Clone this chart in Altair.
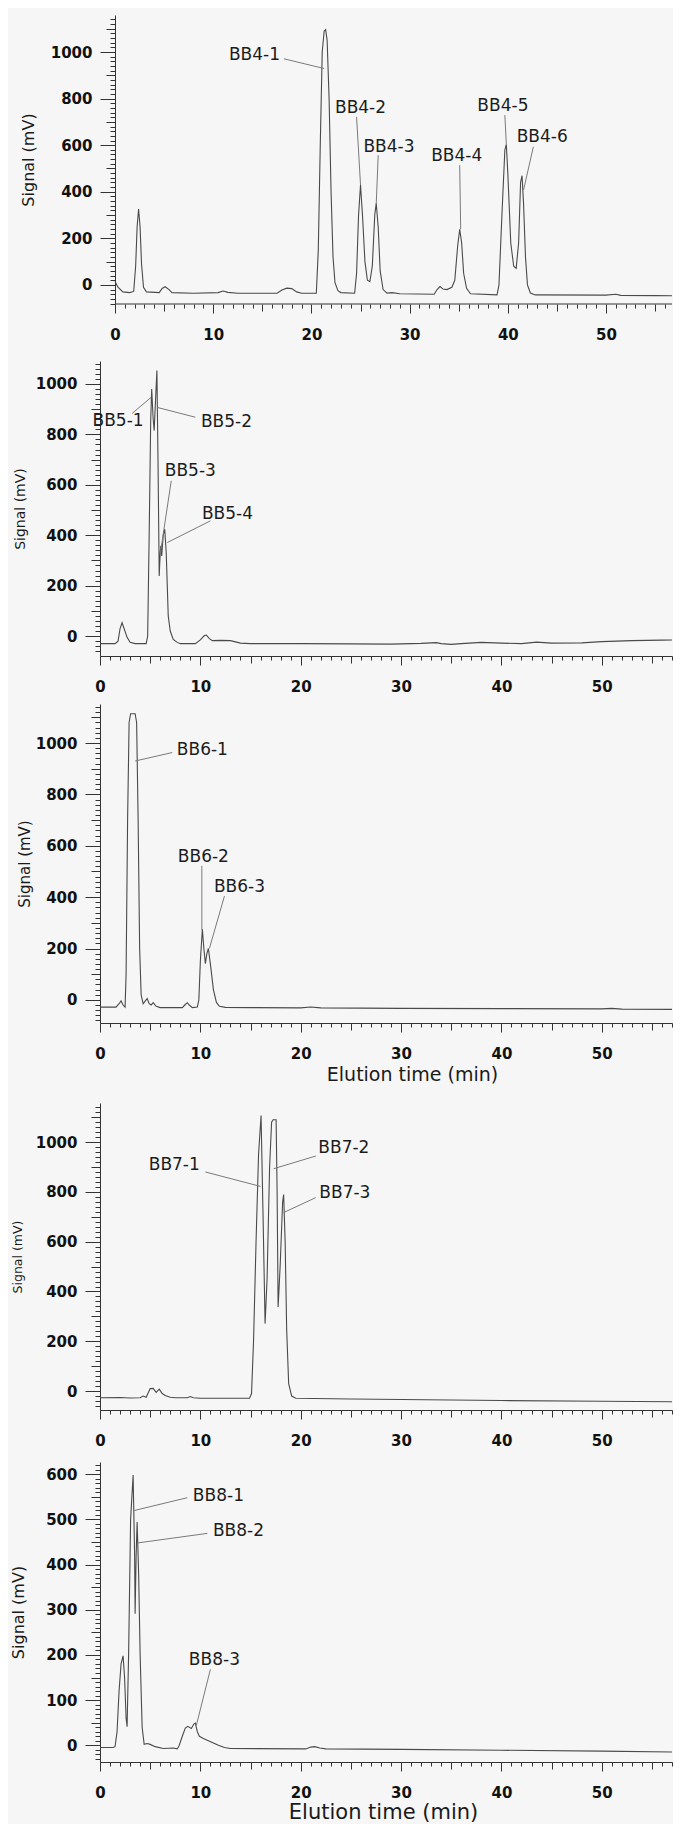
import altair as alt
import pandas as pd

# ---------------- Panel 1 (BB4) ----------------
P1_T = [0.0, 0.3, 0.8, 1.5, 1.9, 2.1, 2.25, 2.4, 2.55, 2.7, 2.9, 3.2, 4.5, 4.8, 5.1, 5.5, 5.8, 8.0,
        10.5, 11.0, 11.5, 12.5, 16.5, 17.0, 17.5, 18.0, 18.5, 19.0, 20.5, 20.7, 20.9, 21.1, 21.3,
        21.45, 21.6, 21.8, 22.0, 22.2, 22.4, 22.7, 23.0, 24.4, 24.6, 24.8, 25.0, 25.2, 25.45, 25.7,
        25.95, 26.2, 26.45, 26.6, 26.8, 27.0, 27.3, 27.7, 28.2, 29.0, 32.5, 32.8, 33.1, 33.4, 33.8,
        34.3, 34.6, 34.9, 35.1, 35.3, 35.5, 35.8, 36.2, 38.9, 39.1, 39.4, 39.7, 39.85, 40.0, 40.3,
        40.6, 40.85, 41.1, 41.3, 41.45, 41.6, 41.8, 42.0, 42.3, 42.8, 50.0, 51.0, 51.5, 55.0, 57.9]
P1_V = [15, -10, -30, -33, -28, 80, 250, 326, 250, 90, -10, -30, -33, -15, -8, -20, -33, -36,
        -33, -26, -32, -36, -36, -22, -14, -16, -30, -36, -36, 150, 600, 1000, 1090,
        1096, 1050, 800, 400, 120, 10, -25, -33, -36, 50, 300, 429, 300, 100, 20,
        14, 80, 300, 350, 250, 60, -20, -35, -33, -38, -40, -20, -7, -18, -20,
        -10, 20, 170, 239, 180, 50, -15, -38, -43, 0, 300, 580, 603, 480, 180,
        80, 71, 180, 440, 469, 350, 120, 0, -35, -43, -44, -40, -45, -46, -47]
P1_NAMES = ["BB4-1", "BB4-2", "BB4-3", "BB4-4", "BB4-5", "BB4-6"]
P1_LAB_T = [14.2, 25.0, 27.9, 34.8, 39.5, 43.5]
P1_LAB_V = [989, 761, 593, 554, 770, 634]
P1_LD_T1 = [17.2, 24.6, 26.8, 35.1, 39.7, 42.6]
P1_LD_V1 = [971, 721, 557, 514, 729, 593]
P1_LD_T2 = [21.3, 25.0, 26.6, 35.2, 39.85, 41.6]
P1_LD_V2 = [929, 429, 347, 239, 603, 407]

# ---------------- Panel 2 (BB5) ----------------
P2_T = [0.0, 1.5, 1.8, 2.0, 2.2, 2.4, 2.7, 3.0, 3.5, 4.6, 4.75, 4.9, 5.05, 5.15, 5.3, 5.4, 5.55,
        5.67, 5.78, 5.9, 6.0, 6.06, 6.15, 6.3, 6.45, 6.6, 6.8, 7.0, 7.3, 7.7, 8.0, 9.5, 10.0, 10.4,
        10.6, 10.9, 11.2, 12.0, 13.0, 14.0, 15.0, 20.0, 25.0, 29.0, 32.0, 33.5, 34.0, 35.0, 36.0,
        38.0, 40.0, 42.0, 43.5, 45.0, 48.0, 50.0, 53.0, 56.0, 58.2]
P2_V = [-30, -30, -20, 30, 53, 30, -5, -25, -30, -30, 0, 400, 850, 980, 860, 815, 950,
        1053, 700, 238, 330, 358, 318, 400, 424, 330, 80, 20, -13, -25, -30, -30, -15, 2,
        4, -10, -18, -17, -18, -28, -30, -30, -31, -32, -29, -26, -30, -33, -30,
        -25, -28, -30, -24, -28, -27, -22, -18, -16, -15]
P2_NAMES = ["BB5-1", "BB5-2", "BB5-3", "BB5-4"]
P2_LAB_T = [1.8, 12.6, 9.0, 12.7]
P2_LAB_V = [854, 848, 653, 486]
P2_LD_T1 = [3.2, 9.5, 7.1, 11.0]
P2_LD_V1 = [883, 868, 616, 457]
P2_LD_T2 = [5.1, 5.7, 6.0, 6.7]
P2_LD_V2 = [947, 907, 325, 371]

# ---------------- Panel 3 (BB6) ----------------
P3_T = [0.0, 1.6, 1.9, 2.1, 2.3, 2.5, 2.6, 2.75, 2.9, 3.05, 3.5, 3.65, 3.8, 3.95, 4.1, 4.3, 4.5,
        4.7, 4.9, 5.1, 5.3, 5.6, 6.0, 8.2, 8.5, 8.7, 8.9, 9.2, 9.7, 9.85, 10.0, 10.2, 10.35, 10.5,
        10.65, 10.8, 11.0, 11.3, 11.6, 11.9, 12.5, 15.0, 20.0, 21.0, 22.0, 30.0, 40.0, 50.0, 51.0,
        52.0, 58.2]
P3_V = [-28, -28, -15, -4, -20, -28, 100, 700, 1080, 1114, 1114, 1080, 700, 200, 20, -15, -5,
        5, -15, -20, -11, -25, -30, -30, -18, -11, -20, -30, -28, 0, 150, 275, 200, 141,
        180, 200, 140, 40, -10, -25, -29, -30, -31, -28, -31, -33, -34, -35, -33,
        -36, -37]
P3_NAMES = ["BB6-1", "BB6-2", "BB6-3"]
P3_LAB_T = [10.2, 10.3, 13.9]
P3_LAB_V = [974, 558, 439]
P3_LD_T1 = [7.2, 10.15, 12.4]
P3_LD_V1 = [963, 522, 404]
P3_LD_T2 = [3.5, 10.15, 10.9]
P3_LD_V2 = [930, 272, 200]

# ---------------- Panel 4 (BB7) ----------------
P4_T = [0.0, 2.0, 3.0, 4.0, 4.3, 4.6, 5.0, 5.3, 5.6, 5.9, 6.2, 6.5, 7.0, 7.5, 8.7, 9.0, 9.3, 10.0,
        14.9, 15.1, 15.3, 15.55, 15.8, 16.05, 16.25, 16.45, 16.65, 16.9, 17.1, 17.25, 17.55, 17.65,
        17.75, 17.95, 18.2, 18.3, 18.45, 18.6, 18.8, 19.1, 19.5, 25.0, 30.0, 40.0, 50.0, 58.2]
P4_V = [-27, -26, -28, -27, -20, -25, 10, 11, -5, 8, -10, -18, -25, -27, -27, -22, -27, -29,
        -29, -10, 200, 600, 950, 1107, 700, 271, 450, 900, 1080, 1090, 1090, 800,
        338, 500, 760, 789, 600, 250, 30, -20, -29, -32, -34, -38, -41, -43]
P4_NAMES = ["BB7-1", "BB7-2", "BB7-3"]
P4_LAB_T = [7.4, 24.3, 24.4]
P4_LAB_V = [909, 977, 795]
P4_LD_T1 = [10.5, 21.5, 21.5]
P4_LD_V1 = [880, 944, 777]
P4_LD_T2 = [16.0, 17.3, 18.3]
P4_LD_V2 = [822, 893, 717]

# ---------------- Panel 5 (BB8) ----------------
P5_T = [0.0, 1.3, 1.5, 1.7, 1.9, 2.1, 2.3, 2.45, 2.6, 2.7, 2.85, 3.05, 3.3, 3.45, 3.5, 3.6, 3.7,
        3.85, 4.0, 4.2, 4.4, 4.7, 5.0, 5.5, 6.3, 7.3, 7.7, 7.9, 8.2, 8.5, 8.75, 9.1, 9.35, 9.5,
        9.7, 9.9, 10.3, 10.8, 11.3, 11.8, 12.4, 13.0, 20.5, 21.0, 21.4, 21.9, 22.5, 30.0, 40.0,
        50.0, 58.2]
P5_V = [-5, -5, -3, 30, 120, 180, 198, 150, 60, 41, 200, 500, 598, 420, 291, 420, 494,
        380, 200, 40, 2, 4, 2, -3, -7, -6, -8, 0, 20, 38, 42, 37, 47, 49,
        30, 20, 15, 10, 5, 0, -5, -7, -8, -4, -3, -6, -8, -9, -11,
        -13, -15]
P5_NAMES = ["BB8-1", "BB8-2", "BB8-3"]
P5_LAB_T = [11.8, 13.8, 11.4]
P5_LAB_V = [551, 474, 188]
P5_LD_T1 = [8.7, 10.7, 11.0]
P5_LD_V1 = [548, 469, 168]
P5_LD_T2 = [3.3, 3.8, 9.6]
P5_LD_V2 = [519, 448, 44]

FONT = "DejaVu Sans"
LINE_COLOR = "#4a4a4a"
LEAD_COLOR = "#7a7a7a"
PLOT_W = 572


def make_panel(tt, vv, names, lt, lv, t1, v1, t2, v2, xdom, ydom, height,
               ystep, ymid, ymajor, ytitle_size, ytitle_x, yoffset=0,
               xtitle=None, xtitle_size=20, xtitle_x=0, xtitle_y=0,
               own_xline=False, xline_end=58):
    trace = pd.DataFrame({"t": tt, "v": vv})
    labels = pd.DataFrame({"t": lt, "v": lv, "name": names})
    leads = pd.DataFrame({"t": t1, "v": v1, "t2": t2, "v2": v2})

    xvals = [i for i in range(0, 60) if xdom[0] <= i <= xdom[1]]
    yvals = [k for k in range(-200, 1300, ystep) if ydom[0] <= k <= ydom[1]]

    xkw = dict(values=xvals, format="d",
               labelExpr="datum.value % 10 === 0 ? datum.label : ''",
               tickSize={"condition": [{"test": "datum.value % 10 === 0", "value": 9},
                                       {"test": "datum.value % 5 === 0", "value": 7}],
                         "value": 4},
               labelPadding=14, labelOverlap=False, labelFlush=False, grid=False,
               domain=not own_xline)
    if xtitle:
        xkw.update(titleFontSize=xtitle_size, titleX=xtitle_x, titleY=xtitle_y,
                   titleBaseline="middle", titleAlign="center")
    xaxis = alt.Axis(**xkw)
    yaxis = alt.Axis(values=yvals, format="d",
                     labelExpr=f"datum.value % {ymajor} === 0 ? datum.label : ''",
                     tickSize={"condition": [{"test": f"datum.value % {ymajor} === 0", "value": 15},
                                             {"test": f"datum.value % {ymid} === 0", "value": 9}],
                               "value": 5},
                     labelPadding=8, labelOverlap=False, grid=False,
                     titleFontSize=ytitle_size, titleX=ytitle_x,
                     titleBaseline="middle", titleAlign="center", offset=yoffset)

    xs = alt.Scale(domain=xdom, nice=False, zero=False)
    ys = alt.Scale(domain=ydom, nice=False, zero=False)
    X = alt.X("t:Q", scale=xs, axis=xaxis, title=xtitle)
    Y = alt.Y("v:Q", scale=ys, axis=yaxis, title="Signal (mV)")

    line = alt.Chart(trace).mark_line(color=LINE_COLOR, strokeWidth=1.1, clip=True).encode(x=X, y=Y)
    lead = alt.Chart(leads).mark_rule(color=LEAD_COLOR, strokeWidth=1).encode(
        x=X, y=Y, x2="t2:Q", y2="v2:Q")
    text = alt.Chart(labels).mark_text(font=FONT, fontSize=17, color="#1c1c1c",
                                       align="center", baseline="middle").encode(
        x=X, y=Y, text="name:N")
    layers = [line, lead, text]
    if own_xline:
        xl = pd.DataFrame({"t": [0], "t2": [xline_end], "v": [ydom[0]]})
        layers.append(alt.Chart(xl).mark_rule(color="#333333", strokeWidth=1).encode(
            x=X, x2="t2:Q", y=Y))
    return alt.layer(*layers).properties(width=PLOT_W, height=height)


X_MAX = 57.0
P1_XMAX = 56.72

p1 = make_panel(P1_T, P1_V, P1_NAMES, P1_LAB_T, P1_LAB_V, P1_LD_T1, P1_LD_V1, P1_LD_T2, P1_LD_V2,
                [-1.53, P1_XMAX], [-82, 1159], 289, 20, 100, 200, 16, -87, yoffset=-15,
                own_xline=True, xline_end=P1_XMAX)
p2 = make_panel(P2_T, P2_V, P2_NAMES, P2_LAB_T, P2_LAB_V, P2_LD_T1, P2_LD_V1, P2_LD_T2, P2_LD_V2,
                [0, X_MAX], [-79, 1091], 295, 20, 100, 200, 14, -80)
p3 = make_panel(P3_T, P3_V, P3_NAMES, P3_LAB_T, P3_LAB_V, P3_LD_T1, P3_LD_V1, P3_LD_T2, P3_LD_V2,
                [0, X_MAX], [-90, 1152], 319, 20, 100, 200, 15, -76,
                xtitle="Elution time (min)", xtitle_size=19, xtitle_x=312, xtitle_y=51)
p4 = make_panel(P4_T, P4_V, P4_NAMES, P4_LAB_T, P4_LAB_V, P4_LD_T1, P4_LD_V1, P4_LD_T2, P4_LD_V2,
                [0, X_MAX], [-76, 1157], 307, 20, 100, 200, 12.5, -83)
p5 = make_panel(P5_T, P5_V, P5_NAMES, P5_LAB_T, P5_LAB_V, P5_LD_T1, P5_LD_V1, P5_LD_T2, P5_LD_V2,
                [0, X_MAX], [-37, 627], 300, 10, 50, 100, 16, -82,
                xtitle="Elution time (min)", xtitle_size=21, xtitle_x=283, xtitle_y=50)

g12 = alt.vconcat(p1, p2, spacing=14)
g123 = alt.vconcat(g12, p3, spacing=6)
g1234 = alt.vconcat(g123, p4, spacing=16)
chart = alt.vconcat(g1234, p5, spacing=10).properties(
    padding={"left": 2, "top": 4, "right": 0, "bottom": 2},
    background="#f6f6f6",
).configure_view(stroke=None).configure_axis(
    labelFont=FONT, labelFontWeight="bold", labelFontSize=15, labelColor="#111111",
    titleFont=FONT, titleFontWeight="normal", titleColor="#1a1a1a",
    domainColor="#333333", tickColor="#333333", domainWidth=1, tickWidth=1,
)

chart.save("out.html", embed_options={"renderer": "svg", "actions": False})
